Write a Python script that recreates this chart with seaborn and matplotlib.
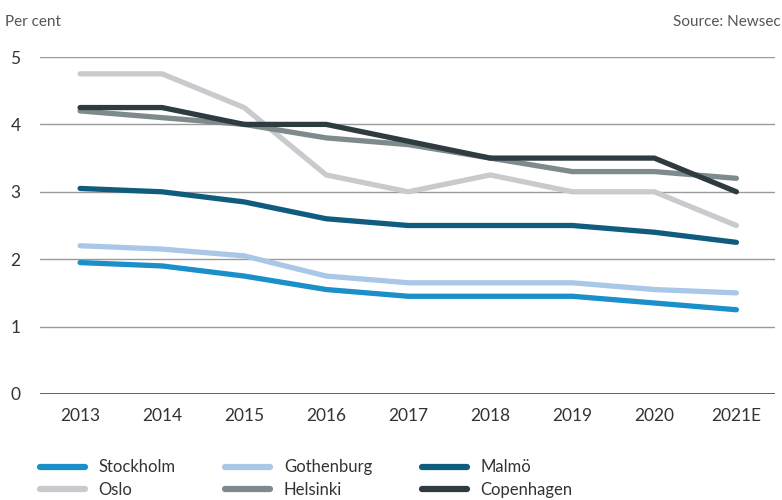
import matplotlib
matplotlib.use("Agg")
import matplotlib.pyplot as plt
import pandas as pd
import seaborn as sns

years = ["2013", "2014", "2015", "2016", "2017", "2018", "2019", "2020", "2021E"]
stockholm = [1.95, 1.9, 1.75, 1.55, 1.45, 1.45, 1.45, 1.35, 1.25]
gothenburg = [2.2, 2.15, 2.05, 1.75, 1.65, 1.65, 1.65, 1.55, 1.5]
malmo = [3.05, 3.0, 2.85, 2.6, 2.5, 2.5, 2.5, 2.4, 2.25]
oslo = [4.75, 4.75, 4.25, 3.25, 3.0, 3.25, 3.0, 3.0, 2.5]
helsinki = [4.2, 4.1, 4.0, 3.8, 3.7, 3.5, 3.3, 3.3, 3.2]
copenhagen = [4.25, 4.25, 4.0, 4.0, 3.75, 3.5, 3.5, 3.5, 3.0]

cities = ["Stockholm", "Gothenburg", "Malmö", "Oslo", "Helsinki", "Copenhagen"]
series = [stockholm, gothenburg, malmo, oslo, helsinki, copenhagen]
colors = ["#1a8fc9", "#a9c8e8", "#0f5c7f", "#c9cacd", "#7e8a8b", "#2e3c42"]

rows = []
for city, values in zip(cities, series):
    for i, (year, v) in enumerate(zip(years, values)):
        rows.append({"pos": i, "year": year, "city": city, "value": v})
df = pd.DataFrame(rows)

sns.set_style("white")
plt.rcParams["font.family"] = ["Lato", "DejaVu Sans"]

fig = plt.figure(figsize=(7.82, 5.0), dpi=100)
ax = fig.add_axes([0.051, 0.212, 0.94, 0.674])

sns.lineplot(data=df, x="pos", y="value", hue="city", hue_order=cities,
             palette=colors, linewidth=3.8, ax=ax, legend=False, zorder=3)

ax.set_xlim(-0.49, 8.47)
ax.set_ylim(0, 5)
ax.set_xticks(range(len(years)))
ax.set_xticklabels(years)
ax.set_yticks([0, 1, 2, 3, 4, 5])
for y in [1, 2, 3, 4, 5]:
    ax.axhline(y, color="#9a9a9a", linewidth=1.0, zorder=1)
ax.axhline(0, color="#333333", linewidth=1.8, zorder=2)
sns.despine(ax=ax, left=True, bottom=True, top=True, right=True)
ax.set_xlabel("")
ax.set_ylabel("")
ax.tick_params(axis="both", length=0, labelsize=12.5, labelcolor="#333333")
ax.tick_params(axis="x", pad=10)
ax.tick_params(axis="y", pad=14)

fig.text(0.006, 0.955, "Per cent", fontsize=11, color="#555555", ha="left", va="center")
fig.text(0.998, 0.955, "Source: Newsec", fontsize=11, color="#555555", ha="right", va="center")

# legend fills column-wise: reorder so rows read Stockholm/Gothenburg/Malmö, Oslo/Helsinki/Copenhagen
order = [0, 3, 1, 4, 2, 5]
handles = [plt.Line2D([], [], color=colors[i], linewidth=4.5) for i in order]
labels = [cities[i] for i in order]
fig.legend(handles, labels, loc="lower left", bbox_to_anchor=(0.032, -0.026),
           ncol=3, frameon=False, fontsize=12, handlelength=2.7,
           columnspacing=3.0, labelspacing=0.4, handletextpad=0.8,
           labelcolor="#333333")

fig.savefig("out.png", dpi=100)
